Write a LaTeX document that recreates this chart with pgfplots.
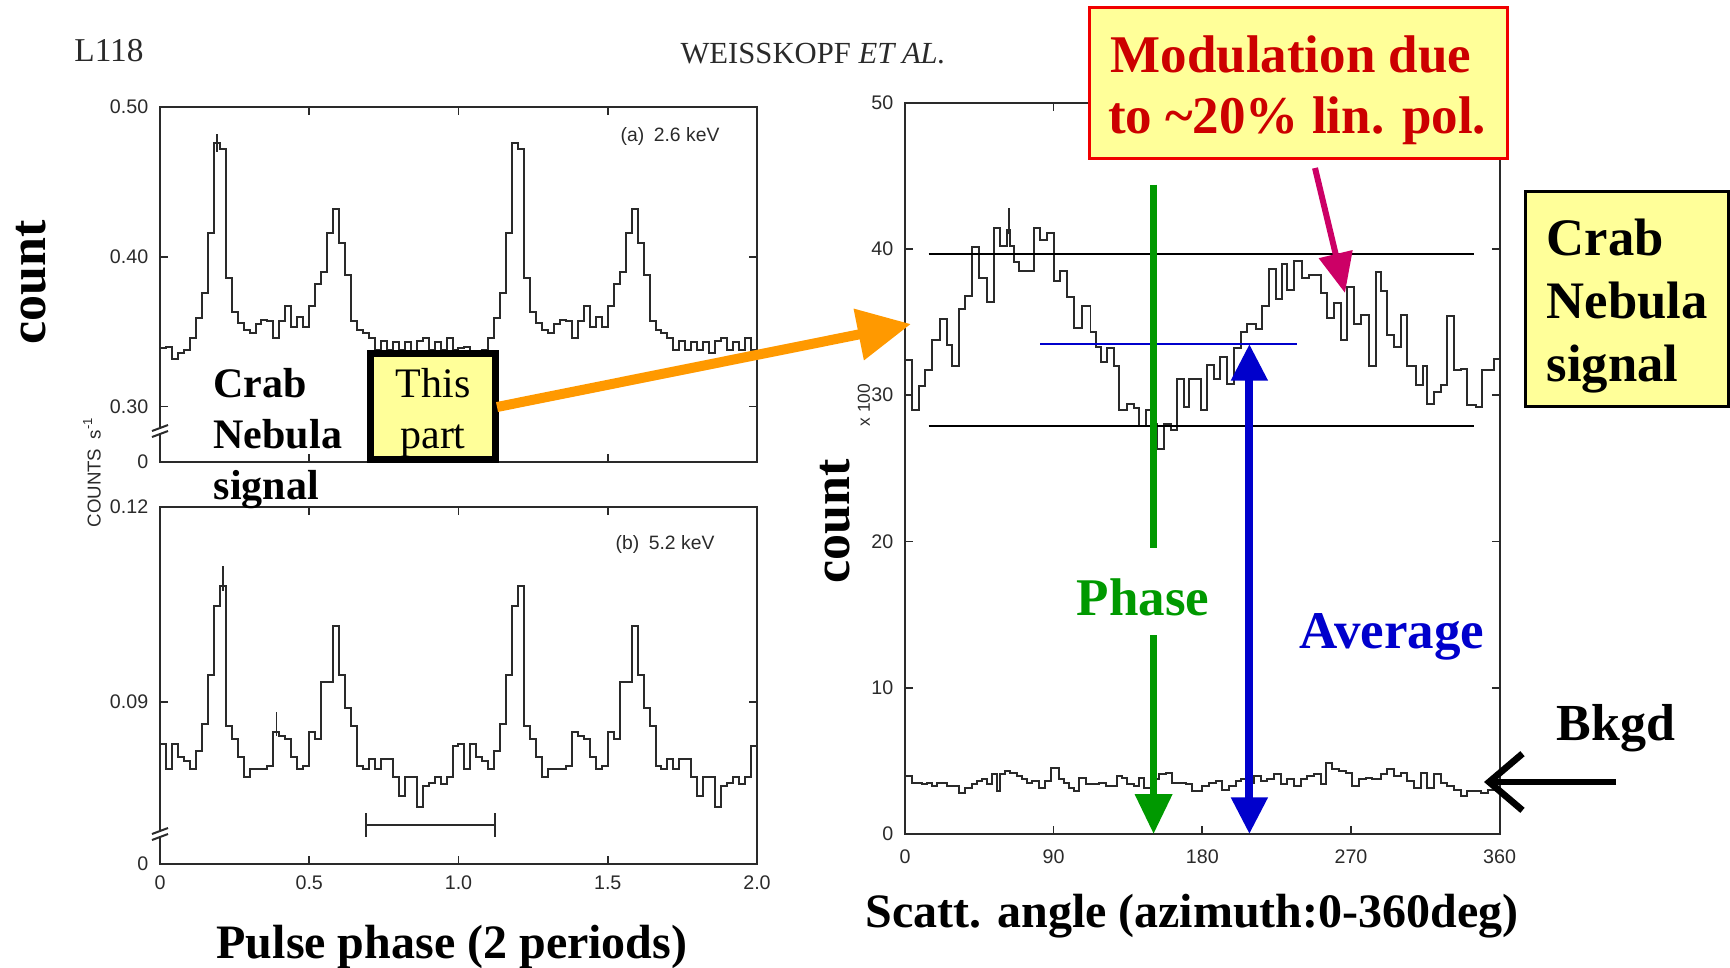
\documentclass[border=0pt]{standalone}
\usepackage{fontspec}
\setmainfont{Liberation Serif}
\newfontfamily\scanfont{Liberation Sans}
\usepackage{pgfplots}
\pgfplotsset{compat=1.18}
\usetikzlibrary{arrows.meta}

\definecolor{paleyellow}{HTML}{FFFF99}
\definecolor{boxred}{HTML}{F00000}
\definecolor{textred}{HTML}{CC0000}
\definecolor{arrorange}{HTML}{FF9900}
\definecolor{phasegreen}{HTML}{009900}
\definecolor{avgblue}{HTML}{0000CC}
\definecolor{pinkarrow}{HTML}{CC0066}
\definecolor{scanink}{HTML}{2A2A2A}

\newcommand\fs[2]{\fontsize{#1}{#2}\selectfont}

\pgfplotsset{
  scanaxis/.style={
    scale only axis, clip=false,
    axis line style={scanink, line width=0.6pt},
    every tick/.style={scanink, line width=0.5pt},
    major tick length=2.4pt,
    tick align=inside,
    tick label style={font=\scanfont\fs{5.9}{7}, color=scanink},
    /pgf/number format/assume math mode=true,
  },
  hist/.style={const plot mark left, mark=none, color=scanink, line width=0.6pt},
}

\begin{document}
\begin{tikzpicture}[x=0.3pt, y=-0.3pt]
\path[use as bounding box] (0,0) rectangle (1730,968);
\coordinate (pA) at (160,462);
\coordinate (pB) at (160,864);
\coordinate (pC) at (905,834);

% ---------- (a) 2.6 keV pulse profile ----------
\begin{axis}[scanaxis, at={(pA)}, anchor=south west,
  width=179.1pt, height=106.6pt,
  xmin=0, xmax=2, ymin=0.2631, ymax=0.5,
  xtick={0.5,1,1.5}, xticklabels={},
  ytick={0.2631,0.3,0.4,0.5}, yticklabels={0,0.30,0.40,0.50}]
\addplot[hist] coordinates {
(0.00,0.339) (0.02,0.340) (0.04,0.332) (0.06,0.336) (0.08,0.338) (0.10,0.346)
(0.12,0.359) (0.14,0.376) (0.16,0.416) (0.18,0.476) (0.20,0.472) (0.22,0.386)
(0.24,0.363) (0.26,0.356) (0.28,0.351) (0.30,0.349) (0.32,0.355) (0.34,0.358)
(0.36,0.357) (0.38,0.346) (0.40,0.357) (0.42,0.367) (0.44,0.353) (0.46,0.360)
(0.48,0.353) (0.50,0.367) (0.52,0.382) (0.54,0.390) (0.56,0.416) (0.58,0.432)
(0.60,0.409) (0.62,0.388) (0.64,0.357) (0.66,0.351) (0.68,0.349) (0.70,0.346)
(0.72,0.338) (0.74,0.344) (0.76,0.338) (0.78,0.343) (0.80,0.338) (0.82,0.343)
(0.84,0.336) (0.86,0.344) (0.88,0.346) (0.90,0.338) (0.92,0.343) (0.94,0.338)
(0.96,0.346) (0.98,0.338)
(1.00,0.339) (1.02,0.340) (1.04,0.332) (1.06,0.336) (1.08,0.338) (1.10,0.346)
(1.12,0.359) (1.14,0.376) (1.16,0.416) (1.18,0.476) (1.20,0.472) (1.22,0.386)
(1.24,0.363) (1.26,0.356) (1.28,0.351) (1.30,0.349) (1.32,0.355) (1.34,0.358)
(1.36,0.357) (1.38,0.346) (1.40,0.357) (1.42,0.367) (1.44,0.353) (1.46,0.360)
(1.48,0.353) (1.50,0.367) (1.52,0.382) (1.54,0.390) (1.56,0.416) (1.58,0.432)
(1.60,0.409) (1.62,0.388) (1.64,0.357) (1.66,0.351) (1.68,0.349) (1.70,0.346)
(1.72,0.338) (1.74,0.344) (1.76,0.338) (1.78,0.343) (1.80,0.338) (1.82,0.343)
(1.84,0.336) (1.86,0.344) (1.88,0.346) (1.90,0.338) (1.92,0.343) (1.94,0.338)
(1.96,0.346) (1.98,0.338) (2.00,0.338)};
% error bar on the main peak
\addplot[scanink, line width=0.5pt] coordinates {(0.19,0.470) (0.19,0.482)};
\end{axis}

% ---------- (b) 5.2 keV pulse profile ----------
\begin{axis}[scanaxis, at={(pB)}, anchor=south west,
  width=179.1pt, height=107.25pt,
  xmin=0, xmax=2, ymin=0.0651, ymax=0.12,
  xtick={0,0.5,1,1.5,2}, xticklabels={0,0.5,1.0,1.5,2.0},
  ytick={0.0651,0.09,0.12}, yticklabels={0,0.09,0.12}]
\addplot[hist] coordinates {
(0.00,0.0835) (0.02,0.0797) (0.04,0.0835) (0.06,0.0815) (0.08,0.0809) (0.10,0.0797)
(0.12,0.0825) (0.14,0.0866) (0.16,0.0941) (0.18,0.1047) (0.20,0.1078) (0.22,0.0863)
(0.24,0.0843) (0.26,0.0815) (0.28,0.0784) (0.30,0.0797) (0.32,0.0797) (0.34,0.0797)
(0.36,0.0802) (0.38,0.0853) (0.40,0.0848) (0.42,0.0843) (0.44,0.0815) (0.46,0.0797)
(0.48,0.0802) (0.50,0.0853) (0.52,0.0843) (0.54,0.0930) (0.56,0.0930) (0.58,0.1017)
(0.60,0.0941) (0.62,0.0891) (0.64,0.0863) (0.66,0.0802) (0.68,0.0797) (0.70,0.0812)
(0.72,0.0797) (0.74,0.0812) (0.76,0.0812) (0.78,0.0784) (0.80,0.0756) (0.82,0.0784)
(0.84,0.0784) (0.86,0.0738) (0.88,0.0771) (0.90,0.0776) (0.92,0.0784) (0.94,0.0774)
(0.96,0.0784) (0.98,0.0832)
(1.00,0.0835) (1.02,0.0797) (1.04,0.0835) (1.06,0.0815) (1.08,0.0809) (1.10,0.0797)
(1.12,0.0825) (1.14,0.0866) (1.16,0.0941) (1.18,0.1047) (1.20,0.1078) (1.22,0.0863)
(1.24,0.0843) (1.26,0.0815) (1.28,0.0784) (1.30,0.0797) (1.32,0.0797) (1.34,0.0797)
(1.36,0.0802) (1.38,0.0853) (1.40,0.0848) (1.42,0.0843) (1.44,0.0815) (1.46,0.0797)
(1.48,0.0802) (1.50,0.0853) (1.52,0.0843) (1.54,0.0930) (1.56,0.0930) (1.58,0.1017)
(1.60,0.0941) (1.62,0.0891) (1.64,0.0863) (1.66,0.0802) (1.68,0.0797) (1.70,0.0812)
(1.72,0.0797) (1.74,0.0812) (1.76,0.0812) (1.78,0.0784) (1.80,0.0756) (1.82,0.0784)
(1.84,0.0784) (1.86,0.0738) (1.88,0.0771) (1.90,0.0776) (1.92,0.0784) (1.94,0.0774)
(1.96,0.0784) (1.98,0.0832) (2.00,0.0832)};
% error bars
\addplot[scanink, line width=0.5pt] coordinates {(0.21,0.1070) (0.21,0.1109)};
\addplot[scanink, line width=0.5pt] coordinates {(0.39,0.0848) (0.39,0.0884)};
% phase interval bar
\addplot[scanink, line width=0.6pt] coordinates {(0.69,0.0711) (1.122,0.0711)};
\addplot[scanink, line width=0.6pt] coordinates {(0.69,0.0693) (0.69,0.0729)};
\addplot[scanink, line width=0.6pt] coordinates {(1.122,0.0693) (1.122,0.0729)};
\end{axis}

% ---------- scattering-angle distribution ----------
\begin{axis}[scanaxis, at={(pC)}, anchor=south west,
  width=178.4pt, height=219.4pt,
  xmin=0, xmax=360, ymin=0, ymax=50,
  xtick={0,90,180,270,360}, ytick={0,10,20,30,40,50},
  xticklabel style={yshift=-1.2pt}]
% Crab Nebula signal
\addplot[hist] coordinates {
(0,32.4) (4.2,29.0) (8.3,30.6) (12.3,31.7) (16.4,33.8) (21.4,35.2) (25.5,33.4)
(28.5,32.0) (32.5,35.9) (36.6,36.8) (40.6,40.1) (44.6,38.0) (49.7,36.4) (53.7,41.4)
(57.8,40.2) (61.8,41.3) (63.8,40.2) (65.9,39.1) (68.9,38.5) (78.0,41.4) (82.0,40.6)
(86.1,41.1) (90.1,37.8) (94.1,38.5) (98.2,36.7) (102.2,34.6) (107.3,36.1) (112.3,34.3)
(115.4,33.3) (118.4,32.3) (122.4,33.2) (126.5,32.0) (129.5,29.0) (134.5,29.4)
(138.6,29.1) (141.6,27.9) (145.7,29.0) (148.7,28.0) (152.7,26.3) (156.8,28.0)
(160.8,27.6) (164.8,31.1) (168.9,29.2) (171.9,31.1) (178.9,29.0) (183.0,32.1)
(187.0,31.1) (191.0,32.6) (195.1,30.8) (199.1,33.2) (203.2,34.3) (207.2,34.9)
(212.3,34.5) (216.3,36.1) (220.3,38.6) (224.4,36.6) (228.4,39.0) (231.5,37.2)
(235.5,39.2) (240.5,38.0) (244.6,38.2) (251.7,37.0) (255.7,35.3) (259.7,36.3)
(263.8,33.8) (267.8,37.4) (271.9,34.9) (275.9,35.5) (281.0,32.0) (285.0,38.4)
(288.0,37.1) (292.1,34.1) (296.1,33.3) (300.1,35.5) (304.2,32.0) (309.2,30.7)
(313.3,32.0) (316.3,29.4) (320.3,30.2) (324.4,30.7) (328.4,35.4) (332.5,31.7)
(336.5,31.8) (340.5,29.3) (345.6,29.2) (349.6,31.7) (356.7,32.5) (360,32.5)};
\addplot[scanink, line width=0.5pt] coordinates {(63,41.0) (63,42.8)};
% background
\addplot[hist] coordinates {
(0,3.96) (4.2,3.50) (10.3,3.39) (13.3,3.50) (16.3,3.27) (19.4,3.50) (25.4,3.27)
(32.5,2.81) (36.5,3.16) (40.6,3.39) (43.6,3.62) (46.6,3.73) (49.7,3.39) (52.7,4.07)
(55.7,2.93) (57.8,4.07) (60.8,4.30) (63.8,4.19) (67.9,3.96) (70.9,3.73) (73.9,3.50)
(77.0,3.62) (81.0,3.16) (85.0,3.62) (88.1,4.53) (93.1,3.73) (96.1,3.50) (99.2,3.16)
(102.2,2.93) (105.2,3.84) (109.3,3.39) (117.4,3.50) (121.4,3.27) (128.5,3.96)
(131.5,3.84) (134.5,3.39) (138.6,3.27) (141.6,3.84) (144.6,3.16) (148.7,3.73)
(153.7,4.07) (157.8,4.19) (161.8,3.50) (169.9,3.39) (173.9,2.93) (180.0,3.27)
(184.0,3.50) (188.0,3.62) (192.1,3.04) (196.1,3.27) (200.1,3.62) (203.2,3.73)
(208.2,3.50) (211.3,3.96) (215.3,3.62) (219.3,3.73) (223.4,4.07) (227.4,3.39)
(231.5,3.73) (235.5,3.27) (239.5,3.73) (243.6,3.96) (247.6,4.07) (251.7,3.39)
(254.7,4.87) (258.7,4.42) (262.8,4.30) (266.8,4.19) (270.9,3.27) (274.9,3.73)
(278.9,3.84) (283.0,3.73) (288.0,4.07) (292.1,4.42) (296.1,3.96) (300.1,4.19)
(304.2,3.62) (308.2,3.16) (312.3,4.19) (316.3,3.16) (320.3,4.07) (324.4,3.50)
(328.4,3.27) (332.5,3.04) (336.5,2.59) (340.5,2.93) (344.6,2.93) (348.6,2.81)
(352.7,3.04) (356.8,3.16) (360,3.16)};
% maximum / minimum levels and the average
\draw[black, line width=0.6pt] (axis cs:14.3,39.65) -- (axis cs:344.4,39.65);
\draw[black, line width=0.6pt] (axis cs:14.3,27.9) -- (axis cs:344.4,27.9);
\draw[avgblue, line width=0.5pt] (axis cs:82,33.5) -- (axis cs:237.6,33.5);
% phase marker
\draw[phasegreen, line width=2.2pt] (axis cs:150.5,44.4) -- (axis cs:150.5,19.55);
\draw[phasegreen, line width=2.2pt, -{Triangle[length=12pt,width=10.8pt]}]
  (axis cs:150.5,13.6) -- (axis cs:150.5,0);
% average level
\draw[avgblue, line width=2.4pt,
  {Triangle[length=11pt,width=10.5pt]}-{Triangle[length=11pt,width=10.5pt]}]
  (axis cs:208.5,33.5) -- (axis cs:208.5,0);
\end{axis}

% ---------- axis breaks ----------
\fill[white] (157,428) rectangle (163,434);
\draw[scanink, line width=0.6pt] (152,431) -- (168,425);
\draw[scanink, line width=0.6pt] (152,437) -- (168,431);
\fill[white] (157,831) rectangle (163,837);
\draw[scanink, line width=0.6pt] (152,834) -- (168,828);
\draw[scanink, line width=0.6pt] (152,840) -- (168,834);

% ---------- page header and original axis captions ----------
\node[text=scanink, font=\fs{10}{12}] at (109,51) {L118};
\node[text=scanink, font=\fs{9.2}{11}] at (813,54) {WEISSKOPF \textit{ET AL.}};
\node[text=scanink, font=\scanfont\fs{5.8}{7}] at (670,136) {(a)\enspace 2.6 keV};
\node[text=scanink, font=\scanfont\fs{5.8}{7}] at (665,544) {(b)\enspace 5.2 keV};
\node[text=scanink, font=\scanfont\fs{5.6}{7}, rotate=90] at (92,472) {COUNTS\enspace s\textsuperscript{-1}};
\node[text=scanink, font=\scanfont\fs{5.2}{6}, rotate=90] at (864,405) {x 100};

% ---------- labels ----------
\node[font=\bfseries\fs{15.6}{18}, rotate=90] at (31,282) {count};
\node[font=\bfseries\fs{15.6}{18}, rotate=90] at (835,521) {count};
\node[font=\bfseries\fs{14.4}{17}] at (452,947) {Pulse phase (2 periods)};
\node[font=\bfseries\fs{14.4}{17}] at (1192,916) {Scatt. angle (azimuth:0-360deg)};
\node[font=\bfseries\fs{12.6}{15.3}, align=left, anchor=west, inner sep=0pt] at (213,439) {Crab\\Nebula\\signal};

% "This part" box and arrow
\draw[black, line width=2.1pt, fill=paleyellow] (370.5,353.5) rectangle (495.5,459.5);
\node[font=\fs{12.6}{15.3}, align=center] at (433,413) {This\\part};
\draw[arrorange, line width=3pt, -{Triangle[length=16pt,width=15pt]}] (497,407) -- (911,324);

% modulation box
\draw[boxred, line width=0.9pt, fill=paleyellow] (1089,7) rectangle (1507,158);
\node[text=textred, font=\bfseries\fs{15.9}{19}] at (1291,54) {Modulation due};
\node[text=textred, font=\bfseries\fs{15.9}{19}] at (1297,121) {to \textasciitilde 20\% lin. pol.};
\draw[pinkarrow, line width=1.8pt, -{Triangle[length=12pt,width=10pt]}] (1315,168) -- (1345,293);

% Crab Nebula signal box
\draw[black, line width=0.9pt, fill=paleyellow] (1525,191) rectangle (1728,406);
\node[font=\bfseries\fs{15.8}{18.9}, align=left, anchor=west, inner sep=0pt] at (1546,306) {Crab\\Nebula\\signal};

% phase / average / background labels
\node[text=phasegreen, font=\bfseries\fs{15.9}{19}] at (1143,597) {Phase};
\node[text=avgblue, font=\bfseries\fs{15.9}{19}] at (1392,637) {Average};
\node[font=\bfseries\fs{15.6}{19}] at (1616,728) {Bkgd};
\draw[black, line width=1.6pt, -{Straight Barb[length=10pt,width=17pt,line width=2pt]}] (1616,782) -- (1484,782);
\end{tikzpicture}
\end{document}
